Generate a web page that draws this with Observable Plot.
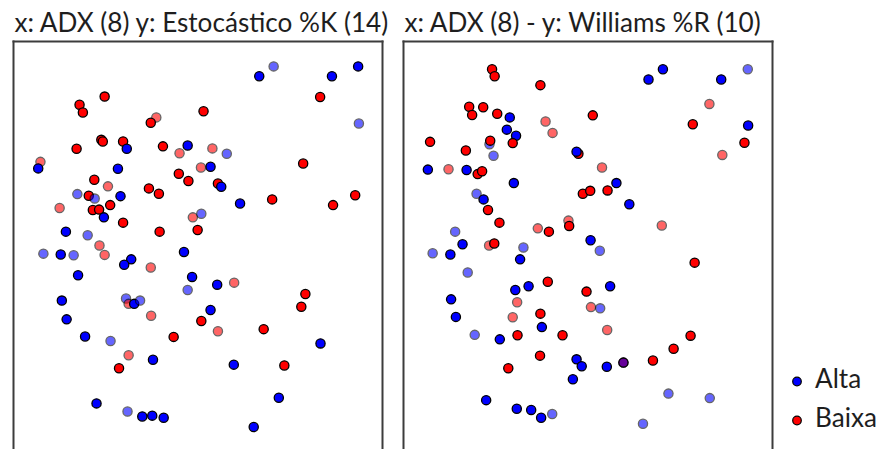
<!DOCTYPE html>
<html>
<head>
<meta charset="utf-8">
<script src="https://cdn.jsdelivr.net/npm/d3@7"></script>
<script src="https://cdn.jsdelivr.net/npm/@observablehq/plot@0.6"></script>
<style>
  html, body { margin: 0; padding: 0; background: #fff; }
  #wrap { position: relative; width: 878px; height: 449px; overflow: hidden; font-family: Lato, "Open Sans", sans-serif; }
  #wrap > svg { position: absolute; left: 0; top: 0; }
</style>
</head>
<body>
<div id="wrap"></div>
<script>
// ---------- data ----------
const panels = ["estocastico", "williams"];
const titles = ["x: ADX (8) y: Estocástico %K (14)", "x: ADX (8) - y: Williams %R (10)"];
const classes = ["Alta", "Baixa"];

// Panel 1: ADX (8) vs Estocástico %K (14)
const adx1 = [
  24.7, 17.9, 18.8, 38.7, 37.2, 51.5, 23.8, 24.2, 29.7, 30.7,
  17.1, 40.5, 47.2, 45.0, 7.3, 6.7, 28.3, 50.8, 44.8, 47.4,
  21.9, 25.6, 36.7, 39.4, 17.3, 20.4, 22.0, 29.0, 12.5, 26.2,
  21.5, 23.2, 24.5, 48.6, 50.9, 29.7, 14.2, 20.1, 39.6, 49.9,
  66.6, 70.5, 86.3, 93.4, 83.1, 93.6, 53.9, 57.8, 53.4, 78.5,
  55.4, 56.3, 61.4, 70.1, 92.6, 86.6, 23.3, 8.1, 12.8, 16.3,
  24.7, 31.9, 30.0, 37.2, 46.2, 17.5, 48.4, 47.2, 13.1, 30.5,
  31.2, 32.7, 34.3, 37.3, 14.4, 19.4, 26.3, 43.4, 31.2, 37.8,
  28.6, 22.5, 30.9, 34.9, 37.6, 40.7, 55.2, 59.8, 79.1, 78.0,
  53.4, 50.9, 55.4, 67.8, 83.2, 59.7, 73.4, 71.9, 65.1
];
const estK = [
  86.5, 84.5, 82.6, 81.4, 80.1, 82.9, 75.9, 75.5, 75.5, 73.7,
  73.7, 74.3, 74.5, 72.6, 70.5, 68.9, 68.8, 69.1, 67.6, 65.8,
  66.1, 64.5, 64.0, 62.7, 62.6, 62.2, 61.5, 62.1, 59.2, 59.9,
  58.7, 58.8, 56.9, 56.9, 57.8, 55.6, 53.4, 52.5, 53.4, 53.8,
  91.5, 93.9, 91.5, 93.9, 86.4, 79.9, 73.8, 72.5, 69.3, 70.1,
  65.2, 64.4, 60.3, 61.3, 62.3, 59.9, 50.0, 48.0, 47.8, 47.6,
  47.7, 46.6, 45.3, 44.6, 48.4, 42.7, 42.3, 39.1, 36.5, 37.0,
  35.7, 35.7, 36.5, 32.8, 31.9, 27.7, 26.6, 27.6, 23.1, 22.0,
  19.9, 11.3, 9.3, 8.1, 8.3, 7.8, 40.4, 40.9, 38.1, 35.0,
  34.2, 31.5, 29.0, 29.5, 26.0, 20.8, 20.6, 12.7, 5.5
];
// A = Alta, B = Baixa
const classe1 = "BBBBBBBBBA" + "BBABBAABBB" + "BBBBABAABB" + "BBABABAABB" + "AAAABABAAB" +
                "BAABBBBAAA" + "BAABAAAAAA" + "BAABAAABBA" + "BAAAAAABBB" + "ABBBAABAA";
// 1 = ponto destacado, 0 = ponto esmaecido
const nivel1 = "1110111111" + "1110011011" + "1011010101" + "1110011011" + "1011100011" +
               "1111110010" + "0110111010" + "0100110101" + "1101111011" + "110111111";

// Panel 2: ADX (8) vs Williams %R (10)
const adx2 = [
  24.0, 24.7, 37.1, 17.8, 18.6, 21.6, 25.4, 28.8, 38.5, 40.4,
  28.0, 30.5, 7.2, 23.3, 23.5, 29.6, 16.9, 24.4, 47.4, 46.9,
  51.3, 6.6, 12.2, 17.1, 20.1, 21.3, 29.9, 19.8, 21.7, 22.9,
  48.6, 50.6, 26.0, 36.4, 39.4, 44.7, 44.9, 14.0, 50.7, 66.4,
  70.3, 86.1, 93.3, 82.9, 78.4, 93.4, 92.4, 86.4, 53.8, 57.7,
  55.3, 61.2, 70.0, 16.0, 23.2, 24.6, 32.5, 7.9, 12.7, 31.6,
  17.4, 39.1, 30.3, 33.9, 49.6, 12.9, 30.8, 50.8, 14.2, 29.6,
  37.1, 37.5, 19.3, 26.1, 30.9, 43.1, 37.0, 28.4, 46.9, 48.3,
  45.9, 22.4, 30.7, 34.6, 37.3, 40.3, 53.2, 78.9, 56.0, 53.3,
  55.2, 77.8, 73.2, 55.1, 59.6, 67.6, 71.8, 83.0, 64.9, 59.6
];
const williamsR = [
  93.2, 91.5, 89.3, 84.0, 82.0, 83.9, 82.3, 81.4, 80.4, 77.6,
  78.4, 76.9, 75.4, 74.8, 75.7, 75.1, 73.3, 72.0, 72.5, 73.0,
  81.9, 68.6, 68.7, 68.5, 67.5, 68.2, 65.3, 62.7, 61.3, 58.7,
  62.7, 63.4, 55.6, 54.2, 53.4, 56.1, 54.8, 53.4, 51.3, 90.7,
  93.2, 90.7, 93.2, 84.7, 79.7, 79.4, 75.2, 72.2, 69.1, 65.3,
  63.5, 60.1, 54.9, 50.3, 50.0, 50.5, 49.5, 48.1, 47.8, 46.6,
  43.4, 41.1, 39.1, 40.0, 38.7, 36.8, 36.1, 34.9, 32.5, 32.4,
  33.3, 30.0, 28.1, 27.0, 28.0, 28.0, 23.0, 19.9, 22.1, 20.4,
  17.2, 12.1, 10.0, 9.7, 7.8, 8.7, 48.7, 45.8, 40.0, 34.6,
  29.3, 27.9, 24.7, 20.3, 21.3, 21.8, 13.7, 12.6, 6.3, 21.3
];
const classe2 = "BBBBBBBABB" + "AABABBBABA" + "BABABBAAAB" + "BBBBBBBAAA" + "AAABBABBBA" +
                "BABABBAAAA" + "ABAABABBAB" + "BAAABBBBAA" + "AAAAAAABAA" + "BBBABBAAAA";
const nivel2 = "1111111100" + "1110111011" + "1101111011" + "1110101011" + "1100111001" +
               "1101010011" + "0111110010" + "1101111111" + "1111100110" + "0111110000";

// ---------- build table ----------
function rows(panel, xs, ys, cls, lvl) {
  return xs.map((x, i) => ({
    panel, x, y: ys[i],
    classe: cls[i] === "A" ? classes[0] : classes[1],
    nivel: lvl[i] === "1" ? 1 : 0.6
  }));
}
const points = [
  ...rows(panels[0], adx1, estK, classe1, nivel1),
  ...rows(panels[1], adx2, williamsR, classe2, nivel2)
];
const titleRows = panels.map((p, i) => ({panel: p, title: titles[i]}));

const frameStyle = {stroke: "#3c3c3c", strokeWidth: 2};

const chart = Plot.plot({
  width: 878,
  height: 449,
  marginLeft: 13,
  marginRight: 106,
  marginTop: 41,
  marginBottom: 0,
  style: {fontFamily: "Lato, 'Open Sans', sans-serif", background: "transparent"},
  fx: {domain: panels, paddingInner: 21 / 390, paddingOuter: 0, axis: null, label: null},
  x: {domain: [0, 100], axis: null},
  y: {domain: [0, 100], axis: null},
  color: {domain: classes, range: ["#0000ff", "#ff0000"]},
  opacity: {type: "identity"},
  marks: [
    Plot.frame({anchor: "top", ...frameStyle}),
    Plot.frame({anchor: "left", ...frameStyle}),
    Plot.frame({anchor: "right", ...frameStyle}),
    Plot.dot(points, {
      fx: "panel", x: "x", y: "y",
      fill: "classe", stroke: "black", strokeWidth: 1.3, r: 4.6,
      opacity: "nivel"
    }),
    Plot.text(titleRows, {
      fx: "panel", text: "title",
      frameAnchor: "top-left", textAnchor: "start", lineAnchor: "bottom",
      dx: 1, dy: -9.5, fontSize: 26, fill: "#1e1e1e"
    })
  ]
});

const wrap = document.getElementById("wrap");
wrap.appendChild(chart);

// fit the title font size to the reference width
const titleNodes = chart.querySelectorAll('g[aria-label="text"] text');
let fontSize = 26;
if (titleNodes.length) {
  const w = titleNodes[0].getComputedTextLength();
  if (w > 0) fontSize = 26 * 374 / w;
  titleNodes.forEach(t => t.setAttribute("font-size", fontSize.toFixed(2)));
}

// legend (right side)
const leg = d3.select(wrap).append("svg")
  .attr("width", 878).attr("height", 449)
  .style("pointer-events", "none");
const legY = [381.5, 420.5];
classes.forEach((c, i) => {
  leg.append("circle")
    .attr("cx", 797).attr("cy", legY[i]).attr("r", 4.3)
    .attr("fill", i === 0 ? "#0000ff" : "#ff0000")
    .attr("stroke", "black").attr("stroke-width", 1.2);
  leg.append("text")
    .attr("x", 815).attr("y", legY[i] + 6)
    .attr("font-family", "Lato, 'Open Sans', sans-serif")
    .attr("font-size", fontSize.toFixed(2))
    .attr("fill", "#1e1e1e")
    .text(c);
});
</script>
</body>
</html>
